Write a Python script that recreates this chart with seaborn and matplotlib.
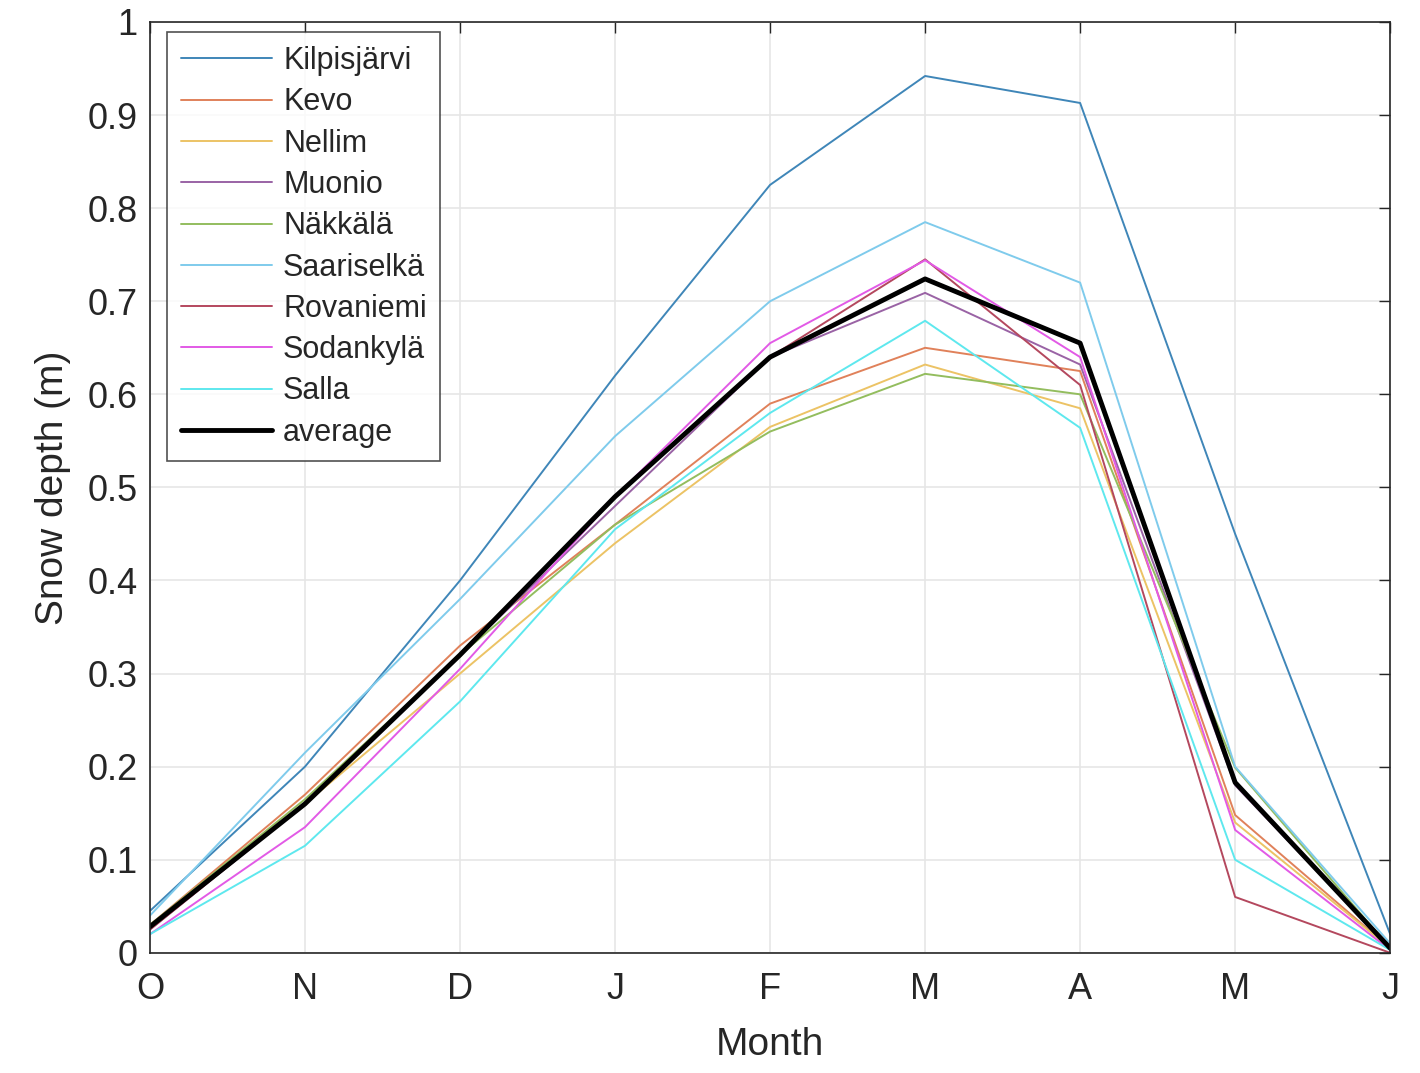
import numpy as np
import pandas as pd
import matplotlib
matplotlib.use("Agg")
import matplotlib.pyplot as plt
import seaborn as sns

# month labels (Oct -> Jun)
months = ["O", "N", "D", "J", "F", "M", "A", "M", "J"]

# snow depth (m) per station
kilpisjarvi = [0.045, 0.200, 0.400, 0.620, 0.825, 0.942, 0.913, 0.450, 0.020]
kevo        = [0.030, 0.170, 0.330, 0.460, 0.590, 0.650, 0.625, 0.148, 0.005]
nellim      = [0.028, 0.160, 0.300, 0.440, 0.565, 0.632, 0.585, 0.140, 0.005]
muonio      = [0.025, 0.160, 0.320, 0.480, 0.640, 0.709, 0.632, 0.180, 0.005]
nakkala     = [0.030, 0.165, 0.320, 0.460, 0.560, 0.622, 0.600, 0.199, 0.005]
saariselka  = [0.040, 0.215, 0.380, 0.555, 0.700, 0.785, 0.720, 0.200, 0.010]
rovaniemi   = [0.025, 0.160, 0.320, 0.490, 0.640, 0.745, 0.610, 0.060, 0.000]
sodankyla   = [0.020, 0.135, 0.305, 0.490, 0.655, 0.744, 0.640, 0.132, 0.003]
salla       = [0.020, 0.115, 0.270, 0.455, 0.580, 0.679, 0.564, 0.100, 0.003]
average     = [0.028, 0.160, 0.320, 0.490, 0.640, 0.724, 0.655, 0.183, 0.005]

stations = ["Kilpisjärvi", "Kevo", "Nellim", "Muonio", "Näkkälä",
            "Saariselkä", "Rovaniemi", "Sodankylä", "Salla"]
values = [kilpisjarvi, kevo, nellim, muonio, nakkala,
          saariselka, rovaniemi, sodankyla, salla]
colors = ["#3f86b8", "#e0815a", "#ecc365", "#9a63a5", "#93bd5e",
          "#7fcbec", "#b4485e", "#e25ae6", "#5ee8ee"]

sns.set_style("white")
plt.rcParams['font.family'] = ['Liberation Sans', 'DejaVu Sans']

fig = plt.figure(figsize=(14.2, 10.73), dpi=100)
ax = fig.add_axes([0.1056, 0.112, 0.8734, 0.8675])

x = np.arange(len(months))
for name, vals, c in zip(stations, values, colors):
    sns.lineplot(x=x, y=vals, ax=ax, color=c, linewidth=1.4, label=name)
sns.lineplot(x=x, y=average, ax=ax, color="black", linewidth=3.5, label="average")

ax.set_xlim(0, 8)
ax.set_ylim(0, 1)
ax.set_xticks(x)
ax.set_xticklabels(months)
ax.set_yticks(np.arange(0, 1.01, 0.1))
ax.set_yticklabels(["0"] + [f"{v:.1f}" for v in np.arange(0.1, 0.95, 0.1)] + ["1"])
ax.grid(True, color="#e6e6e6", linewidth=1.2)
ax.tick_params(direction="in", length=8, width=1, top=True, right=True,
               labelsize=26, colors="#262626")
ax.tick_params(axis="x", pad=14)
ax.tick_params(axis="y", pad=9)
for s in ax.spines.values():
    s.set_color("#262626")
    s.set_linewidth(1.2)
ax.set_xlabel("Month", fontsize=28, color="#262626", labelpad=14)
ax.set_ylabel("Snow depth (m)", fontsize=28, color="#262626", labelpad=12)

leg = ax.legend(loc="upper left", fontsize=22, frameon=True, fancybox=False,
                edgecolor="#262626", handlelength=3.0, handletextpad=0.35,
                borderpad=0.45, labelspacing=0.37, borderaxespad=0,
                bbox_to_anchor=(0.0137, 0.989))
leg.get_frame().set_linewidth(1.2)

fig.savefig("out.png", dpi=100)
